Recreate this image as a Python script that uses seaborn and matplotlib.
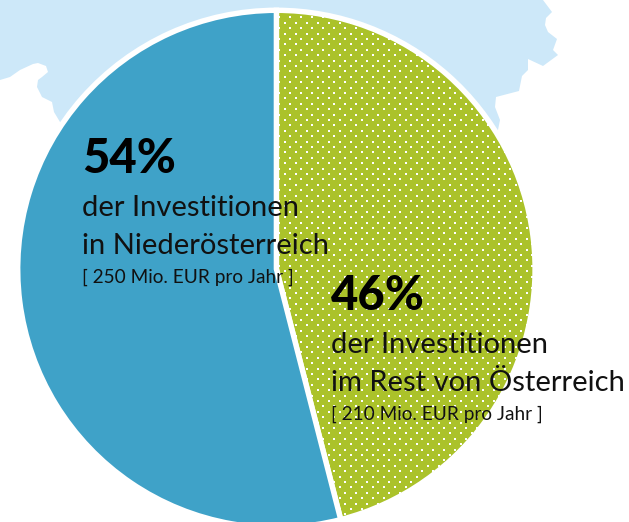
import numpy as np
import seaborn as sns
import matplotlib.pyplot as plt

W, H = 629, 522

# share of investment, clockwise from 12 o'clock
regions = ['Rest von Österreich', 'Niederösterreich']
shares = [46, 54]
colors = sns.color_palette(['#ABC22A', '#3FA2C8'])

# outline of the map behind the pie, in image pixels
map_x = [0, 0, 10, 20, 33, 38, 46, 48, 42, 38, 37, 42, 52, 54, 60, 64, 276, 498, 500, 495, 496, 519, 522, 528, 528, 543, 558, 553, 557, 548, 545, 546, 552, 543]
map_y = [0, 80, 77, 70, 64, 63, 66, 72, 77, 80, 87, 97, 102, 112, 122, 130, 200, 130, 120, 107, 97, 91, 76, 70, 59, 66, 55, 50, 39, 32, 25, 18, 12, 0]

sns.set_theme(style='white')
plt.rcParams['font.family'] = ['Lato', 'DejaVu Sans']

fig = plt.figure(figsize=(W / 100, H / 100), dpi=100)
ax = fig.add_axes([0, 0, 1, 1])

ax.fill(map_x, [H - y for y in map_y], color='#CDE8F9', lw=0)

wedges, _ = ax.pie(shares, colors=colors, startangle=90, counterclock=False,
                   center=(276.4, H - 269), radius=258.7, frame=True,
                   wedgeprops={'edgecolor': 'white', 'linewidth': 3.9})

# white dot screen on the green slice
gx, gy = np.meshgrid(np.arange(-1.5, W, 11), np.arange(2.3, H, 5.4))
gx = gx + (np.arange(gx.shape[0]) % 2)[:, None] * 5.5
dots = ax.scatter(gx.ravel(), gy.ravel(), s=3.6, marker='s', color='white', lw=0, zorder=3)
dots.set_clip_path(wedges[0])

ax.set_xlim(0, W)
ax.set_ylim(0, H)
ax.set_axis_off()

def label(x, y, pct, line1, line2, note):
    ax.text(x, H - y, pct, fontsize=34, fontweight=900, color='black', va='baseline', zorder=5)
    ax.text(x, H - y - 43, line1, fontsize=21, color='#111111', va='baseline', zorder=5)
    ax.text(x, H - y - 81, line2, fontsize=21, color='#111111', va='baseline', zorder=5)
    ax.text(x, H - y - 110, note, fontsize=13.7, color='#111111', va='baseline', zorder=5)

label(82, 173, '54%', 'der Investitionen', 'in Niederösterreich', '[ 250 Mio. EUR pro Jahr ]')
label(331, 310, '46%', 'der Investitionen', 'im Rest von Österreich', '[ 210 Mio. EUR pro Jahr ]')

fig.savefig('out.png', dpi=100)
